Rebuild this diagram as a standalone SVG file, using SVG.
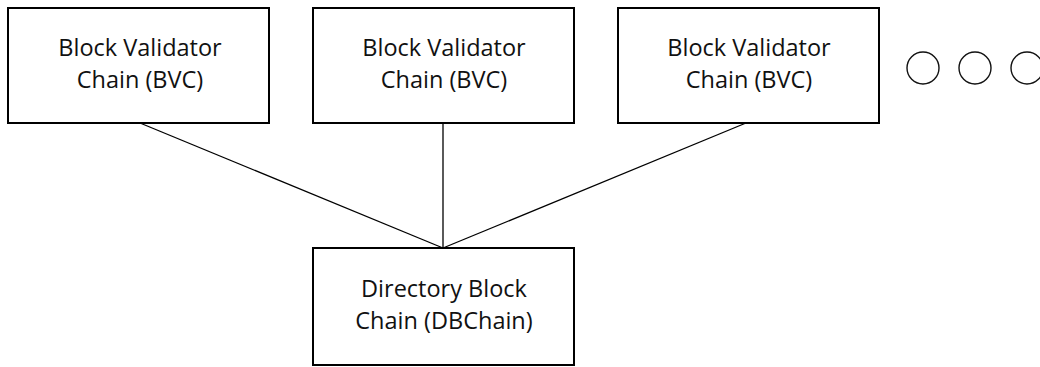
<svg xmlns="http://www.w3.org/2000/svg" width="1040" height="367" viewBox="0 0 1040 367">
<style>
.box{fill:#fff;stroke:#000;stroke-width:2}
.lbl{font-family:"Open Sans","Liberation Sans",sans-serif;font-size:23.5px;fill:#111;text-anchor:middle}
.conn line{stroke:#000;stroke-width:1.3}
.dot{fill:none;stroke:#111;stroke-width:1.4}
</style>
<rect width="1040" height="367" fill="#fff"/>
<g id="connectors" class="conn">
<line x1="140" y1="123" x2="443" y2="248"/>
<line x1="443" y1="123" x2="443" y2="248"/>
<line x1="746" y1="123" x2="443" y2="248"/>
</g>
<g id="bvc1">
<rect class="box" x="8" y="8" width="261" height="115"/>
<text class="lbl" x="140" y="56">Block Validator</text>
<text class="lbl" x="140" y="88">Chain (BVC)</text>
</g>
<g id="bvc2">
<rect class="box" x="313" y="8" width="261" height="115"/>
<text class="lbl" x="444" y="56">Block Validator</text>
<text class="lbl" x="444" y="88">Chain (BVC)</text>
</g>
<g id="bvc3">
<rect class="box" x="618" y="8" width="261" height="115"/>
<text class="lbl" x="749" y="56">Block Validator</text>
<text class="lbl" x="749" y="88">Chain (BVC)</text>
</g>
<g id="ellipsis">
<circle class="dot" cx="923" cy="68" r="16"/>
<circle class="dot" cx="975" cy="68" r="16"/>
<circle class="dot" cx="1027" cy="68" r="16"/>
</g>
<g id="dbchain">
<rect class="box" x="313" y="248" width="261" height="117"/>
<text class="lbl" x="444" y="297">Directory Block</text>
<text class="lbl" x="444" y="329">Chain (DBChain)</text>
</g>
</svg>
